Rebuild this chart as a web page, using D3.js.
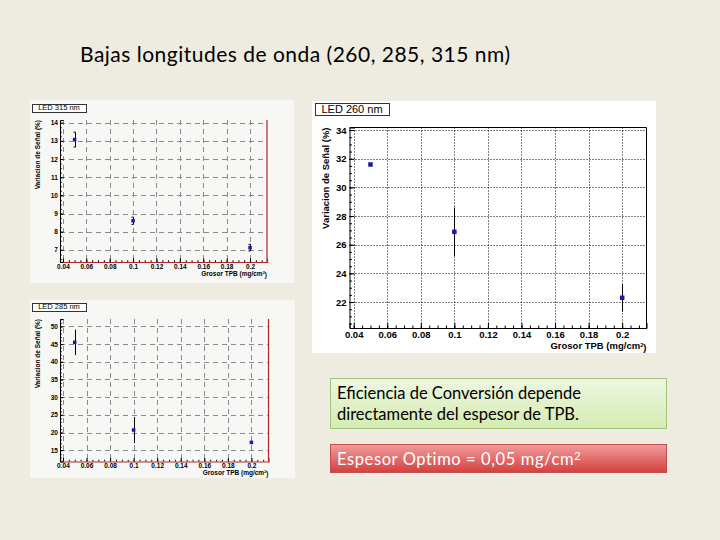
<!DOCTYPE html>
<html lang="es">
<head>
    <meta charset="UTF-8">
    <title>Bajas longitudes de onda</title>
    <style>
        body {
            margin: 0;
            background-color: #eeece1;
        }
        svg {
            display: block;
        }
        .tick text {
            font-family: "Liberation Sans", Arial, sans-serif;
            font-weight: bold;
        }
    </style>
    <script src="https://d3js.org/d3.v7.min.js"></script>
</head>
<body>
    <svg id="chart" width="720" height="540"></svg>

    <script>
        // Data
        const thickness = [0.05, 0.1, 0.2];
        const xTicks = [0.04, 0.06, 0.08, 0.1, 0.12, 0.14, 0.16, 0.18, 0.2];

        const led315 = [13.07, 8.6, 7.12];
        const err315 = [0.41, 0.2, 0.18];
        const yTicks315 = [7, 8, 9, 10, 11, 12, 13, 14];

        const led285 = [45.5, 20.7, 17.2];
        const err285 = [3.6, 3.7, 0];
        const yTicks285 = [15, 20, 25, 30, 35, 40, 45, 50];

        const led260 = [31.6, 26.9, 22.3];
        const err260 = [0, 1.7, 0.95];
        const yTicks260 = [22, 24, 26, 28, 30, 32, 34];

        const svg = d3.select("#chart");

        svg.append("rect")
            .attr("width", 720).attr("height", 540)
            .attr("fill", "#eeece1");

        svg.append("text")
            .attr("x", 80).attr("y", 62)
            .attr("font-family", "Lato, 'Open Sans', sans-serif")
            .attr("font-size", 21)
            .attr("textLength", 430).attr("lengthAdjust", "spacing")
            .attr("fill", "#000")
            .text("Bajas longitudes de onda (260, 285, 315 nm)");

        function drawPanel(cfg) {
            const g = svg.append("g");
            const s = cfg.scale;

            g.append("rect")
                .attr("x", cfg.box[0]).attr("y", cfg.box[1])
                .attr("width", cfg.box[2] - cfg.box[0])
                .attr("height", cfg.box[3] - cfg.box[1])
                .attr("fill", cfg.bg);

            const x = d3.scaleLinear().domain([0.0375, 0.2145]).range([cfg.frame[0], cfg.frame[2]]);
            const y = d3.scaleLinear().domain(cfg.yDomain).range([cfg.frame[3], cfg.frame[1]]);

            // grid
            const grid = g.append("g")
                .attr("stroke", cfg.gridColor)
                .attr("stroke-width", 1)
                .attr("stroke-dasharray", cfg.gridDash);
            grid.selectAll("line.gx").data(xTicks).enter().append("line")
                .attr("x1", d => Math.round(x(d)) + 0.5).attr("x2", d => Math.round(x(d)) + 0.5)
                .attr("y1", cfg.frame[1]).attr("y2", cfg.frame[3]);
            grid.selectAll("line.gy").data(cfg.yTicks).enter().append("line")
                .attr("y1", d => Math.round(y(d)) + 0.5).attr("y2", d => Math.round(y(d)) + 0.5)
                .attr("x1", cfg.frame[0]).attr("x2", cfg.frame[2]);

            // frame
            if (cfg.topFrame) {
                g.append("line")
                    .attr("x1", cfg.frame[0]).attr("x2", cfg.frame[2])
                    .attr("y1", cfg.frame[1]).attr("y2", cfg.frame[1])
                    .attr("stroke", "#000");
            }
            g.append("line")
                .attr("x1", cfg.frame[2]).attr("x2", cfg.frame[2])
                .attr("y1", cfg.frame[1]).attr("y2", cfg.frame[3])
                .attr("stroke", cfg.edgeColor).attr("stroke-width", cfg.edgeWidth);

            // minor ticks
            const xMinor = d3.range(0.04, 0.2125, 0.005);
            g.append("g")
                .attr("transform", `translate(0,${cfg.frame[3]})`)
                .call(d3.axisBottom(x).tickValues(xMinor).tickSize(-2.5 * s).tickFormat(""))
                .call(a => a.select(".domain").remove());
            const yMinor = d3.range(cfg.yTicks[0] - cfg.yMinor * 10, cfg.yDomain[1], cfg.yMinor)
                .filter(v => v >= cfg.yDomain[0] && v <= cfg.yDomain[1]);
            g.append("g")
                .attr("transform", `translate(${cfg.frame[0]},0)`)
                .call(d3.axisLeft(y).tickValues(yMinor).tickSize(-2.5 * s).tickFormat(""))
                .call(a => a.select(".domain").remove());

            // major axes
            const xAxis = g.append("g")
                .attr("transform", `translate(0,${cfg.frame[3]})`)
                .call(d3.axisBottom(x).tickValues(xTicks).tickSize(-5 * s).tickPadding(3 * s)
                    .tickFormat(d3.format("~g")));
            xAxis.select(".domain").attr("stroke", cfg.edgeColor).attr("stroke-width", cfg.edgeWidth);
            xAxis.selectAll(".tick line").attr("stroke", "#000");
            xAxis.selectAll("text").attr("font-size", cfg.tickFont).attr("fill", "#000");

            const yAxis = g.append("g")
                .attr("transform", `translate(${cfg.frame[0]},0)`)
                .call(d3.axisLeft(y).tickValues(cfg.yTicks).tickSize(-5 * s).tickPadding(3 * s));
            yAxis.selectAll("text").attr("font-size", cfg.tickFont).attr("fill", "#000");

            // axis titles
            g.append("text")
                .attr("x", cfg.frame[2]).attr("y", cfg.xTitleY)
                .attr("text-anchor", "end")
                .attr("font-family", "'Liberation Sans', Arial, sans-serif")
                .attr("font-weight", cfg.titleWeight)
                .attr("font-size", cfg.titleFont)
                .html("Grosor TPB (mg/cm<tspan dy='-0.4em' font-size='0.6em'>2</tspan><tspan dy='0.4em'>)</tspan>");
            g.append("text")
                .attr("transform", `translate(${cfg.yTitleX},${cfg.frame[1]}) rotate(-90)`)
                .attr("text-anchor", "end")
                .attr("font-family", "'Liberation Sans', Arial, sans-serif")
                .attr("font-weight", cfg.titleWeight)
                .attr("font-size", cfg.titleFont)
                .text("Variacion de Señal (%)");

            // error bars and markers
            const pts = thickness.map((t, i) => ({ t, v: cfg.values[i], e: cfg.errors[i] }));
            g.selectAll("line.err").data(pts.filter(p => p.e > 0)).enter().append("line")
                .attr("x1", p => Math.round(x(p.t)) + 0.5).attr("x2", p => Math.round(x(p.t)) + 0.5)
                .attr("y1", p => y(p.v + p.e)).attr("y2", p => y(p.v - p.e))
                .attr("stroke", "#000").attr("stroke-width", 1);
            if (cfg.caps) {
                g.selectAll("path.cap").data(pts.filter(p => p.e > 0)).enter().append("path")
                    .attr("d", p => {
                        const cx = Math.round(x(p.t)) + 0.5;
                        return `M${cx - 2},${y(p.v + p.e)}H${cx}M${cx - 2},${y(p.v - p.e)}H${cx}`;
                    })
                    .attr("stroke", "#000").attr("fill", "none");
            }
            g.selectAll("rect.pt").data(pts).enter().append("rect")
                .attr("x", p => x(p.t) - cfg.marker / 2)
                .attr("y", p => y(p.v) - cfg.marker / 2)
                .attr("width", cfg.marker).attr("height", cfg.marker)
                .attr("fill", "#1a1aa0");

            // legend label box
            g.append("rect")
                .attr("x", cfg.label[0] + 0.5).attr("y", cfg.label[1] + 0.5)
                .attr("width", cfg.label[2] - cfg.label[0]).attr("height", cfg.label[3] - cfg.label[1])
                .attr("fill", "#fff").attr("stroke", "#333");
            g.append("text")
                .attr("x", (cfg.label[0] + cfg.label[2]) / 2).attr("y", cfg.label[3] - (cfg.label[3] - cfg.label[1]) * 0.2)
                .attr("text-anchor", "middle")
                .attr("font-family", "'Liberation Sans', Arial, sans-serif")
                .attr("font-size", cfg.labelFont)
                .text(cfg.name);
        }

        drawPanel({
            name: "LED 315 nm", values: led315, errors: err315, yTicks: yTicks315, yMinor: 0.25,
            yDomain: [6.33, 14.15], box: [30, 100, 294, 283], frame: [60, 120, 267, 262],
            label: [32, 104, 86, 112], labelFont: 7.5, bg: "#f7f7f5", scale: 0.7,
            gridColor: "#8a8a8a", gridDash: "5,4", edgeColor: "#b02828", edgeWidth: 1.2,
            topFrame: false, tickFont: 6.5, titleFont: 6.5, titleWeight: "bold",
            xTitleY: 276, yTitleX: 40, caps: true, marker: 3.5
        });

        drawPanel({
            name: "LED 285 nm", values: led285, errors: err285, yTicks: yTicks285, yMinor: 1,
            yDomain: [11.8, 52.1], box: [30, 300, 295, 478], frame: [60, 319, 268.5, 461.5],
            label: [32, 303, 86, 311], labelFont: 7.5, bg: "#f7f7f5", scale: 0.7,
            gridColor: "#8a8a8a", gridDash: "5,4", edgeColor: "#b02828", edgeWidth: 1.2,
            topFrame: false, tickFont: 6.5, titleFont: 6.5, titleWeight: "bold",
            xTitleY: 475, yTitleX: 40, caps: false, marker: 3.5
        });

        drawPanel({
            name: "LED 260 nm", values: led260, errors: err260, yTicks: yTicks260, yMinor: 0.5,
            yDomain: [20.19, 34.18], box: [312, 101, 656, 353], frame: [349.5, 127.5, 646.5, 328],
            label: [315, 103, 389, 115], labelFont: 11, bg: "#ffffff", scale: 1,
            gridColor: "#000", gridDash: "1,2", edgeColor: "#000", edgeWidth: 1,
            topFrame: true, tickFont: 9.5, titleFont: 9.5, titleWeight: "bold",
            xTitleY: 349, yTitleX: 329, caps: false, marker: 4.5
        });

        // text boxes
        const defs = svg.append("defs");
        const gGreen = defs.append("linearGradient").attr("id", "gGreen").attr("x1", 0).attr("y1", 0).attr("x2", 0).attr("y2", 1);
        gGreen.append("stop").attr("offset", "0%").attr("stop-color", "#eef7e1");
        gGreen.append("stop").attr("offset", "100%").attr("stop-color", "#d4ebb2");
        const gRed = defs.append("linearGradient").attr("id", "gRed").attr("x1", 0).attr("y1", 0).attr("x2", 0).attr("y2", 1);
        gRed.append("stop").attr("offset", "0%").attr("stop-color", "#f19d9c");
        gRed.append("stop").attr("offset", "100%").attr("stop-color", "#d3403f");

        svg.append("rect")
            .attr("x", 330.5).attr("y", 378.5).attr("width", 336).attr("height", 50)
            .attr("fill", "url(#gGreen)").attr("stroke", "#a3c37a");
        const greenText = svg.append("text")
            .attr("font-family", "Lato, 'Open Sans', sans-serif")
            .attr("font-size", 16.5).attr("fill", "#000");
        greenText.append("tspan").attr("x", 337).attr("y", 399).text("Eficiencia de Conversión depende");
        greenText.append("tspan").attr("x", 337).attr("y", 420).text("directamente del espesor de TPB.");

        svg.append("rect")
            .attr("x", 330.5).attr("y", 444.5).attr("width", 336).attr("height", 28)
            .attr("fill", "url(#gRed)").attr("stroke", "#c0504d");
        svg.append("text")
            .attr("x", 337).attr("y", 465)
            .attr("font-family", "Lato, 'Open Sans', sans-serif")
            .attr("font-size", 16.5).attr("fill", "#fff")
            .attr("letter-spacing", 0.6)
            .html("Espesor Optimo = 0,05 mg/cm<tspan dy='-0.45em' font-size='0.7em'>2</tspan>");
    </script>
</body>
</html>
